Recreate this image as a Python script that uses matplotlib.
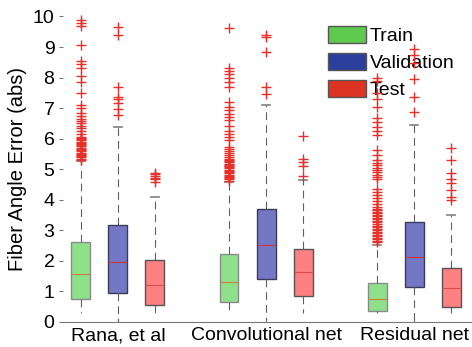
import matplotlib
matplotlib.use("Agg")
import matplotlib.pyplot as plt
from matplotlib.patches import Patch

plt.rcParams["font.family"] = ["Liberation Sans", "DejaVu Sans"]

groups = ["Rana, et al", "Convolutional net", "Residual net"]
sets = ["Train", "Validation", "Test"]

# box statistics, order: Rana (train, val, test), Conv (...), Residual (...)
whislo = [0.27, 0.00, 0.22, 0.27, 0.05, 0.27, 0.27, 0.02, 0.27]
q1 = [0.75, 0.95, 0.55, 0.64, 1.39, 0.85, 0.34, 1.14, 0.49]
med = [1.55, 1.95, 1.20, 1.29, 2.50, 1.62, 0.73, 2.13, 1.09]
q3 = [2.60, 3.17, 2.02, 2.22, 3.68, 2.38, 1.26, 3.27, 1.75]
whishi = [5.28, 6.37, 4.08, 4.59, 7.09, 4.65, 2.51, 6.43, 3.50]

fliers = [
    [5.30, 5.34, 5.38, 5.42, 5.46, 5.50, 5.54, 5.58, 5.62, 5.66, 5.70, 5.74,
     5.78, 5.82, 5.86, 5.90, 5.94, 5.98, 6.02, 6.06, 6.15, 6.25, 6.35, 6.42,
     6.50, 6.58, 6.65, 6.75, 6.85, 7.00, 7.10, 7.50, 7.85, 8.05, 8.30, 8.45,
     8.55, 9.05, 9.70, 9.78, 9.88],
    [6.78, 6.98, 7.15, 7.30, 7.36, 7.69, 9.40, 9.67],
    [4.59, 4.66, 4.72, 4.78, 4.83, 4.87],
    [4.62, 4.66, 4.70, 4.74, 4.78, 4.82, 4.86, 4.90, 4.94, 4.98, 5.02, 5.06,
     5.10, 5.14, 5.18, 5.22, 5.26, 5.30, 5.34, 5.40, 5.46, 5.52, 5.58, 5.65,
     5.72, 5.95, 6.05, 6.15, 6.25, 6.40, 6.62, 6.70, 6.82, 6.95, 7.05, 7.20,
     7.70, 7.85, 8.00, 8.10, 8.20, 8.30, 9.62],
    [7.45, 7.68, 8.82, 9.34, 9.40],
    [4.78, 5.10, 5.22, 5.32, 6.09],
    [2.60, 2.65, 2.70, 2.75, 2.80, 2.85, 2.90, 2.95, 3.00, 3.05, 3.10, 3.15,
     3.20, 3.25, 3.30, 3.35, 3.40, 3.45, 3.50, 3.55, 3.60, 3.65, 3.70, 3.76,
     3.85, 3.95, 4.05, 4.15, 4.25, 4.35, 4.68, 4.75, 4.82, 4.90, 4.98, 5.05,
     5.12, 5.20, 5.30, 5.45, 5.62, 6.12, 6.25, 6.39, 6.55, 6.68, 7.05, 7.30,
     7.50, 7.87, 8.00],
    [6.88, 7.36, 7.96, 8.47, 8.74, 8.93],
    [3.99, 4.10, 4.30, 4.56, 4.67, 4.87, 5.30, 5.69],
]

box_colors = ["#8ee08a", "#7377c4", "#ff8080"]
edge_colors = ["#8a8a8a", "#3a3a5a", "#555555"]
median_colors = ["#c8803a", "#c83a3a", "#e04a4a"]
legend_colors = ["#5ec94e", "#2d3f9c", "#dd3322"]

group_pos = [1, 2, 3]
offsets = [-0.25, 0.0, 0.25]

stats = []
positions = []
for g in range(len(groups)):
    for s in range(len(sets)):
        i = g * 3 + s
        stats.append({
            "whislo": whislo[i], "q1": q1[i], "med": med[i], "q3": q3[i],
            "whishi": whishi[i], "fliers": fliers[i],
        })
        positions.append(group_pos[g] + offsets[s])

fig = plt.figure(figsize=(4.72, 3.47), dpi=100)
ax = fig.add_axes([0.133, 0.073, 0.867, 0.8795])

bp = ax.bxp(
    stats, positions=positions, widths=0.128, patch_artist=True,
    capwidths=0.055,
    whiskerprops={"color": "#606060", "linewidth": 0.8, "linestyle": (0, (7, 4.5))},
    capprops={"color": "#808080", "linewidth": 1.2},
    flierprops={"marker": "+", "markersize": 7, "markeredgecolor": "#e8302a",
                "markeredgewidth": 1.0, "linestyle": "none"},
)
for i, box in enumerate(bp["boxes"]):
    s = i % 3
    box.set_facecolor(box_colors[s])
    box.set_edgecolor(edge_colors[s])
    box.set_linewidth(1.0)
for i, m in enumerate(bp["medians"]):
    m.set_color(median_colors[i % 3])
    m.set_linewidth(0.8)
# lower caps are not drawn in the reference
for cap in bp["caps"][0::2]:
    cap.set_visible(False)
for f in bp["fliers"]:
    f.set_clip_on(False)
    f.set_zorder(6)  # outliers sit over the legend text

ax.set_xlim(0.628, 3.39)
ax.set_ylim(0, 10)
ax.set_yticks(range(0, 11))
ax.set_xticks(group_pos)
ax.set_xticklabels(groups, fontsize=14)
ax.tick_params(axis="y", labelsize=14, length=3, color="#777777", pad=3)
ax.tick_params(axis="x", direction="in", length=3, color="#777777", pad=4)
ax.set_ylabel("Fiber Angle Error (abs)", fontsize=14.5, labelpad=4)

for side in ["left", "top", "right"]:
    ax.spines[side].set_visible(False)
ax.spines["bottom"].set_color("#777777")

handles = [Patch(facecolor=c, edgecolor="#555555", linewidth=1.0) for c in legend_colors]
ax.legend(handles, sets, loc="upper left", bbox_to_anchor=(0.695, 0.925),
          bbox_transform=fig.transFigure, frameon=False, fontsize=14,
          handlelength=1.95, handleheight=1.0, handletextpad=0.2,
          labelspacing=0.38, borderpad=0, borderaxespad=0)

fig.savefig("out.png", dpi=100)
